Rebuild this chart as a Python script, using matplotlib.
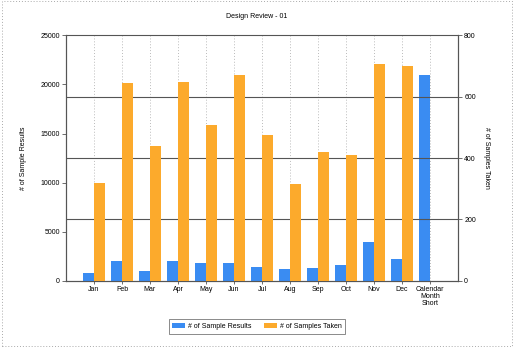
import numpy as np
import matplotlib
matplotlib.use('Agg')
import matplotlib.pyplot as plt
from matplotlib.patches import Rectangle, Patch

plt.rcParams['font.family'] = ['Liberation Sans', 'DejaVu Sans']

# ── Data ─────────────────────────────────────────────────────────────────
months = ['Jan', 'Feb', 'Mar', 'Apr', 'May', 'Jun', 'Jul', 'Aug', 'Sep',
          'Oct', 'Nov', 'Dec', 'Calendar\nMonth\nShort']
sample_results = [815, 2007, 988, 2007, 1834, 1773, 1365, 1192, 1325,
                  1600, 3943, 2180, 21000]
samples_taken = [320, 644, 440, 648, 508, 671, 474, 316, 421,
                 410, 708, 701, None]

left_ticks = [0, 5000, 10000, 15000, 20000, 25000]
right_ticks = [0, 200, 400, 600, 800]

blue = '#3a8cf2'
orange = '#fcaa2c'
fs = 5

fig = plt.figure(figsize=(5.14, 3.47), dpi=100)
ax = fig.add_axes([66/514, 1 - 280.7/347, 392/514, 245.3/347])
ax2 = ax.twinx()

x = np.arange(len(months))
w = 0.41
ax.bar(x - w/2, sample_results, width=w, color=blue, zorder=3)
taken_x = [xi + w/2 for xi, v in zip(x, samples_taken) if v is not None]
taken_v = [v for v in samples_taken if v is not None]
ax2.bar(taken_x, taken_v, width=w, color=orange, zorder=3)

ax.set_xlim(-1, len(months))
ax.set_ylim(0, 25000)
ax2.set_ylim(0, 800)
ax.set_yticks(left_ticks)
ax2.set_yticks(right_ticks)
ax.set_xticks(x)
ax.set_xticklabels(months, fontsize=fs, linespacing=1.0)
ax.tick_params(axis='y', labelsize=fs, length=3, width=0.6, pad=1.5, colors='#555555', labelcolor='black')
ax.tick_params(axis='x', length=2, width=0.6, pad=1.5, colors='#555555', labelcolor='black')
ax2.tick_params(axis='y', labelsize=fs, length=3, width=0.6, pad=1.5, colors='#555555', labelcolor='black')

# vertical dotted grid at category centres, horizontal grid from right axis
ax.set_axisbelow(True)
for xi in x:
    ax.axvline(xi, color='#bbbbbb', lw=0.7, ls=(0, (1, 2)), zorder=0)
for t in right_ticks[1:-1]:
    ax2.axhline(t, color='#555555', lw=0.8, zorder=1)

for a in (ax, ax2):
    for s in a.spines.values():
        s.set_color('#555555')
        s.set_linewidth(0.8)
ax2.spines['top'].set_linestyle((0, (1.5, 1)))
ax.spines['top'].set_visible(False)

ax.set_ylabel('# of Sample Results', fontsize=fs)
ax2.set_ylabel('# of Samples Taken', fontsize=fs, rotation=270)
ax.yaxis.set_label_coords(-39/392, 0.5)
ax2.yaxis.set_label_coords(1 + 32/392, 0.5)

fig.text(257/514, 1 - 16/347, 'Design Review - 01', fontsize=fs, ha='center', va='center')

handles = [Patch(facecolor=blue, label='# of Sample Results'),
           Patch(facecolor=orange, label='# of Samples Taken')]
leg = fig.legend(handles=handles, loc='center', bbox_to_anchor=(257/514, 1 - 326.5/347),
                 ncol=2, fontsize=fs, frameon=True, fancybox=False,
                 handlelength=1.8, handleheight=0.8, columnspacing=1.8,
                 borderpad=0.5, handletextpad=0.5)
leg.get_frame().set_edgecolor('#555555')
leg.get_frame().set_linewidth(0.6)

fig.patches.append(Rectangle((0.003, 0.003), 0.994, 0.994, transform=fig.transFigure,
                             fill=False, edgecolor='#aaaaaa', lw=0.7, ls=(0, (1, 2))))

fig.savefig('out.png', dpi=100, facecolor='white')
